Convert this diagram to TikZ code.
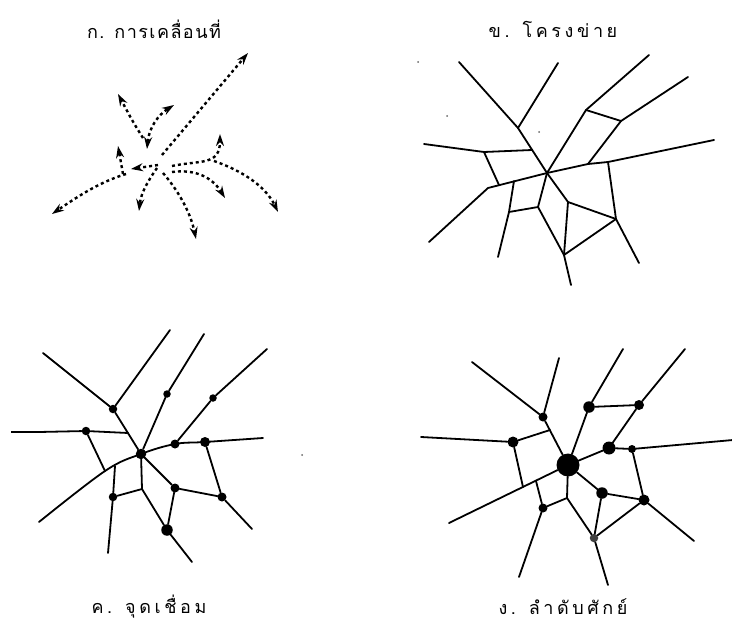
\documentclass[tikz,border=0pt]{standalone}
\usepackage{fontspec}
\newfontfamily\thaifont[Script=Thai]{Loma}
\newfontfamily\thaifontw[Script=Thai,LetterSpace=20]{Loma}
\newfontfamily\thaifonta[Script=Thai,LetterSpace=8]{Loma}
\usetikzlibrary{arrows.meta}
\tikzset{
  lbl/.style={inner sep=0pt},
  flow/.style={line width=2.4pt, dash pattern=on 3pt off 3pt, -{Stealth[length=12pt,width=8pt]}},
  flowb/.style={line width=2.4pt, dash pattern=on 3pt off 3pt, {Stealth[length=12pt,width=8pt]}-{Stealth[length=12pt,width=8pt]}},
  road/.style={line width=1.8pt, line join=round, line cap=round},
  dot/.style={circle, fill=black, inner sep=0pt, minimum size=#1},
  speck/.style={circle, fill=black!60, inner sep=0pt, minimum size=2pt},
}
\begin{document}
\begin{tikzpicture}[x=1pt,y=-1pt]
\useasboundingbox (0,0) rectangle (732,634);
% ---------- labels ----------
\node[lbl, font=\thaifonta\fontsize{18}{21}\selectfont] (la) at (154,29) {ก. การเคลื่อนที่};
\node[lbl, font=\thaifontw\fontsize{18}{21}\selectfont] (lb) at (553,29) {ข. โครงข่าย};
\node[lbl, font=\thaifontw\fontsize{18}{21}\selectfont] (lc) at (149,607) {ค. จุดเชื่อม};
\node[lbl, font=\thaifontw\fontsize{18}{21}\selectfont] (ld) at (563,607) {ง. ลำดับศักย์};

% ---------- panel A : movement ----------
\coordinate (a1s) at (162,155); \coordinate (a1e) at (248,53);
\coordinate (a2s) at (143,138); \coordinate (a2e) at (118,94);
\coordinate (a3s) at (147,149); \coordinate (a3e) at (174,105);
\coordinate (a4s) at (158,165); \coordinate (a4e) at (131,169);
\coordinate (a5s) at (123,174); \coordinate (a5e) at (118,146);
\coordinate (a6s) at (126,174); \coordinate (a6e) at (52,214);
\coordinate (a7s) at (157,168); \coordinate (a7e) at (139,211);
\coordinate (a8s) at (163,173); \coordinate (a8e) at (196,239);
\coordinate (a9s) at (172,172); \coordinate (a9e) at (225,198);
\coordinate (a10s) at (172,166); \coordinate (a10e) at (220,134);
\coordinate (a11s) at (214,161); \coordinate (a11e) at (278,212);
\draw[flow] (a1s) -- (a1e);
\draw[flow] (a2s) .. controls (133,122) .. (a2e);
\draw[flowb] (a3s) .. controls (149,128) and (158,115) .. (a3e);
\draw[flow] (a4s) -- (a4e);
\draw[flow] (a5s) -- (a5e);
\draw[flow] (a6s) .. controls (100,182) and (80,195) .. (a6e);
\draw[flow] (a7s) .. controls (150,178) and (141,192) .. (a7e);
\draw[flow] (a8s) .. controls (176,188) and (190,210) .. (a8e);
\draw[flow] (a9s) .. controls (195,169) and (212,177) .. (a9e);
\draw[flow] (a10s) .. controls (200,160) and (220,166) .. (a10e);
\draw[flow] (a11s) .. controls (240,170) and (265,185) .. (a11e);

% ---------- panel B : network ----------
\coordinate (bC) at (547,173);
\coordinate (b1) at (459,62); \coordinate (b2) at (518,128); \coordinate (b3) at (558,63);
\coordinate (b4) at (424,144); \coordinate (b5) at (484,152); \coordinate (b6) at (532,150);
\coordinate (b7) at (499,185); \coordinate (b8) at (429,242); \coordinate (b9) at (488,188);
\coordinate (b10) at (588,164); \coordinate (b11) at (608,162); \coordinate (b12) at (714,140);
\coordinate (b13) at (514,181); \coordinate (b14) at (509,212); \coordinate (b15) at (498,257);
\coordinate (b16) at (538,207); \coordinate (b17) at (564,255); \coordinate (b18) at (571,285);
\coordinate (b19) at (568,202); \coordinate (b20) at (616,219); \coordinate (b21) at (639,263);
\coordinate (b22) at (586,110); \coordinate (b23) at (649,55);
\coordinate (b24) at (621,121); \coordinate (b25) at (688,77);
\draw[road] (b1) -- (b2) -- (bC);
\draw[road] (b2) -- (b3);
\draw[road] (b4) -- (b5) -- (b6);
\draw[road] (b5) -- (b7);
\draw[road] (b8) -- (b9) -- (bC) -- (b10) -- (b11) -- (b12);
\draw[road] (b13) -- (b14) -- (b15);
\draw[road] (b14) -- (b16);
\draw[road] (bC) -- (b16) -- (b17) -- (b18);
\draw[road] (bC) -- (b19) -- (b20) -- (b21);
\draw[road] (b19) -- (b17) -- (b20);
\draw[road] (b11) -- (b20);
\draw[road] (bC) -- (b22) -- (b23);
\draw[road] (b22) -- (b24);
\draw[road] (b25) -- (b24) -- (b10);
\node[speck] (bs1) at (418,62) {};
\node[speck] (bs2) at (447,116) {};
\node[speck] (bs3) at (539,132) {};

% ---------- panel C : junctions ----------
\coordinate (c1) at (43,353); \coordinate (c3) at (170,330);
\coordinate (c4) at (11,432); \coordinate (c4b) at (39,432); \coordinate (c6) at (128,433);
\coordinate (c7) at (105,471); \coordinate (c8) at (39,522);
\coordinate (c9) at (115,466); \coordinate (c11) at (108,553);
\coordinate (c12) at (142,489); \coordinate (c14) at (192,562);
\coordinate (c17) at (252,529); \coordinate (c21) at (204,334);
\coordinate (c23) at (267,349); \coordinate (c24) at (263,438);
\node[dot=10.5pt] (cN) at (141,454) {};
\node[dot=8.5pt] (c2) at (113,409) {};
\node[dot=8.5pt] (c5) at (86,431) {};
\node[dot=8.5pt] (c10) at (113,497) {};
\node[dot=11.5pt] (c13) at (167,530) {};
\node[dot=9pt] (c15) at (175,488) {};
\node[dot=9pt] (c16) at (222,497) {};
\node[dot=10pt] (c18) at (205,442) {};
\node[dot=9pt] (c19) at (175,444) {};
\node[dot=7.5pt] (c20) at (167,394) {};
\node[dot=7.5pt] (c22) at (213,398) {};
\draw[road] (c1) -- (c2) -- (cN);
\draw[road] (c2) -- (c3);
\draw[road, line width=2.2pt, line cap=butt] (c4) -- (c4b);
\draw[road] (c4b) -- (c5) -- (c6);
\draw[road] (c5) -- (c7);
\draw[road] plot[smooth, tension=0.6] coordinates {(c8) (c7) (cN.center) (c19.center) (c18.center) (c24)};
\draw[road] (c9) -- (c10) -- (c11);
\draw[road] (cN) -- (c12);
\draw[road] (c10) -- (c12) -- (c13) -- (c14);
\draw[road] (cN) -- (c15) -- (c13);
\draw[road] (c15) -- (c16) -- (c17);
\draw[road] (c18) -- (c16);
\draw[road] (cN) -- (c20) -- (c21);
\draw[road] (c19) -- (c22) -- (c23);
\node[speck] (cs1) at (302,455) {};

% ---------- panel D : hierarchy ----------
\coordinate (d1) at (472,362); \coordinate (d3) at (559,358);
\coordinate (d4) at (421,437); \coordinate (d6) at (550,430);
\coordinate (d7) at (523,487); \coordinate (d8) at (449,523);
\coordinate (d9) at (536,481); \coordinate (d11) at (519,577);
\coordinate (d12) at (567,498); \coordinate (d14) at (608,585);
\coordinate (d16) at (623,349); \coordinate (d18) at (685,349);
\coordinate (d21) at (733,440); \coordinate (d24) at (694,541);
\node[dot=23pt] (dC) at (568,465) {};
\node[dot=9pt] (d2) at (543,417) {};
\node[dot=11pt] (d5) at (513,442) {};
\node[dot=9pt] (d10) at (543,508) {};
\node[dot=8.5pt, fill=black!75] (d13) at (594,538) {};
\node[dot=11.5pt] (d15) at (589,407) {};
\node[dot=10pt] (d17) at (639,405) {};
\node[dot=13pt] (d19) at (609,448) {};
\node[dot=8pt] (d20) at (632,449) {};
\node[dot=11pt] (d22) at (644,500) {};
\node[dot=11.5pt] (d23) at (602,493) {};
\draw[road] (d1) -- (d2) -- (dC);
\draw[road] (d2) -- (d3);
\draw[road] (d4) -- (d5) -- (d6);
\draw[road] (d5) -- (d7);
\draw[road] (d8) -- (dC);
\draw[road] (d9) -- (d10) -- (d11);
\draw[road] (d10) -- (d12);
\draw[road] (dC) -- (d12) -- (d13) -- (d14);
\draw[road] (dC) -- (d15) -- (d16);
\draw[road] (d15) -- (d17) -- (d18);
\draw[road] (d17) -- (d19);
\draw[road] (dC) -- (d19) -- (d20) -- (d21);
\draw[road] (d20) -- (d22);
\draw[road] (dC) -- (d23) -- (d22);
\draw[road] (d23) -- (d13) -- (d22) -- (d24);
\end{tikzpicture}
\end{document}
